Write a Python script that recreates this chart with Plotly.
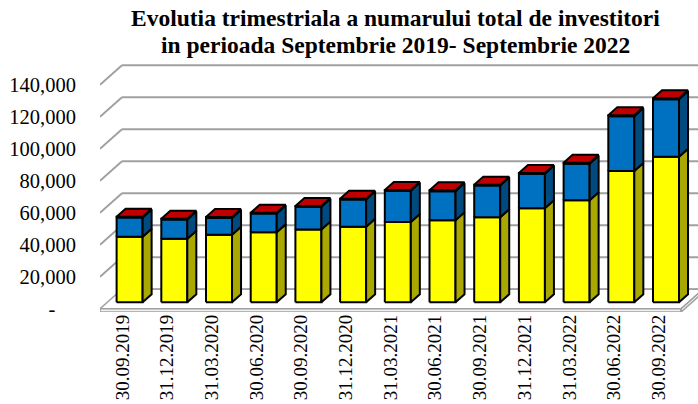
import plotly.graph_objects as go

# ---------------- data ----------------
categories = ["30.09.2019", "31.12.2019", "31.03.2020", "30.06.2020", "30.09.2020",
              "31.12.2020", "31.03.2021", "30.06.2021", "30.09.2021", "31.12.2021",
              "31.03.2022", "30.06.2022", "30.09.2022"]
series_yellow = [41000, 39800, 42300, 43900, 45600, 47300, 50200, 51400, 53200, 58900,
                 63900, 82100, 91000]
series_blue = [12000, 12000, 10500, 11600, 14100, 17000, 19500, 18100, 19800, 21500,
               22800, 34300, 36000]
series_red = [500, 500, 500, 500, 500, 500, 500, 500, 500, 500, 500, 500, 500]
y_tick_values = [0, 20000, 40000, 60000, 80000, 100000, 120000, 140000]
y_tick_labels = ["-\u00a0\u00a0\u00a0\u00a0", "20,000", "40,000", "60,000", "80,000",
                 "100,000", "120,000", "140,000"]
title_lines = ["<b>Evolutia trimestriala a numarului total de investitori</b>",
               "<b>in perioada Septembrie 2019- Septembrie 2022</b>"]

# ---------------- geometry (layout only) ----------------
W, H = 698, 404
ML, MR, MT, MB = 100, 0, 58, 92
plot_w = W - ML - MR
plot_h = H - MT - MB
px_per_cat = 44.7
px_per_unit = 1.6 / 1000.0
zero_px = 308.8
x_range = [-0.5, -0.5 + plot_w / px_per_cat]
y_range = [-(H - MB - zero_px) / px_per_unit, (zero_px - MT) / px_per_unit]
DX = 22.0 / px_per_cat          # depth offset in x units
DY = 19.5 / px_per_unit         # depth offset in y units
half_w = 13.0 / px_per_cat
d_front, d_back = 0.33, 0.74
slab = 2000

FONT = "Liberation Serif"
GRID = "#a0a0a0"


def add_poly(store, xs, ys):
    store[0].extend(list(xs) + [xs[0], None])
    store[1].extend(list(ys) + [ys[0], None])


fig = go.Figure()

# back wall gridlines and side wall diagonals
gx, gy = [], []
x_left = x_range[0]
x_right_back = len(categories) - 0.5 + DX
for v in y_tick_values:
    gx += [x_left + DX, x_right_back + 1, None]
    gy += [v + DY, v + DY, None]
    if v > 0:
        gx += [x_left, x_left + DX, None]
        gy += [v, v + DY, None]
fig.add_trace(go.Scatter(x=gx, y=gy, mode="lines", line=dict(color=GRID, width=2),
                         hoverinfo="skip", showlegend=False))

# floor
n = len(categories)
xr = n - 0.5
floor_top = ([], [])
add_poly(floor_top, [x_left, xr, xr + DX, x_left + DX], [0, 0, DY, DY])
floor_front = ([], [])
add_poly(floor_front, [x_left, xr, xr, x_left], [0, 0, -slab, -slab])
add_poly(floor_front, [xr, xr + DX, xr + DX, xr], [0, DY, DY - slab, -slab])
for store, fill in [(floor_top, "#ffffff"), (floor_front, "#f0f0f0")]:
    fig.add_trace(go.Scatter(x=store[0], y=store[1], mode="lines", fill="toself",
                             fillcolor=fill, line=dict(color=GRID, width=1.5),
                             hoverinfo="skip", showlegend=False))

# bars
segments = [
    (series_yellow, "#FFFF00", "#A8A800", None),
    (series_blue, "#0070C0", "#004A80", None),
    (series_red, "#C00000", "#7A0000", "#C00000"),
]
base = [0] * n
ddx = DX * (d_back - d_front)
for k, (vals, c_front, c_side, c_top) in enumerate(segments):
    front, side, top = ([], []), ([], []), ([], [])
    for i in range(n):
        b = base[i]
        t = b + vals[i]
        x0 = i - half_w + DX * d_front
        x1 = i + half_w + DX * d_front
        yb = b + DY * d_front
        yt = t + DY * d_front
        add_poly(front, [x0, x1, x1, x0], [yb, yb, yt, yt])
        add_poly(side, [x1, x1 + ddx, x1 + ddx, x1],
                 [yb, b + DY * d_back, t + DY * d_back, yt])
        if c_top:
            add_poly(top, [x0, x1, x1 + ddx, x0 + ddx],
                     [yt, yt, t + DY * d_back, t + DY * d_back])
        base[i] = t
    parts = [(front, c_front), (side, c_side)]
    if c_top:
        parts.append((top, c_top))
    for store, fill in parts:
        fig.add_trace(go.Scatter(x=store[0], y=store[1], mode="lines", fill="toself",
                                 fillcolor=fill, line=dict(color="#000000", width=2),
                                 hoverinfo="skip", showlegend=False))

for line, py in zip(title_lines, [18, 45]):
    fig.add_annotation(text=line, xref="paper", yref="paper",
                       x=(395 - ML) / plot_w, y=(H - MB - py) / plot_h,
                       xanchor="center", yanchor="middle", showarrow=False,
                       font=dict(family=FONT, size=23.5, color="#000000"))

fig.update_layout(
    width=W, height=H,
    margin=dict(l=ML, r=MR, t=MT, b=MB, pad=0, autoexpand=False),
    paper_bgcolor="white", plot_bgcolor="white",
    showlegend=False,
    font=dict(family=FONT, size=20.5, color="#000000"),
    xaxis=dict(range=x_range, tickmode="array", tickvals=list(range(n)),
               ticktext=categories, tickangle=-90, showgrid=False, zeroline=False,
               showline=False, ticks="", ticklabelstandoff=-2, automargin=False,
               fixedrange=True, tickfont=dict(family=FONT, size=19)),
    yaxis=dict(range=y_range, tickmode="array", tickvals=y_tick_values,
               ticktext=y_tick_labels, showgrid=False, zeroline=False,
               showline=False, ticks="outside", ticklen=19, automargin=False,
               tickcolor="rgba(0,0,0,0)", fixedrange=True,
               tickfont=dict(family=FONT, size=20.5)),
)

fig.write_html("out.html", config={"displayModeBar": False},
               post_script="document.body.style.margin='0';"
                           "document.body.style.overflow='hidden';")
